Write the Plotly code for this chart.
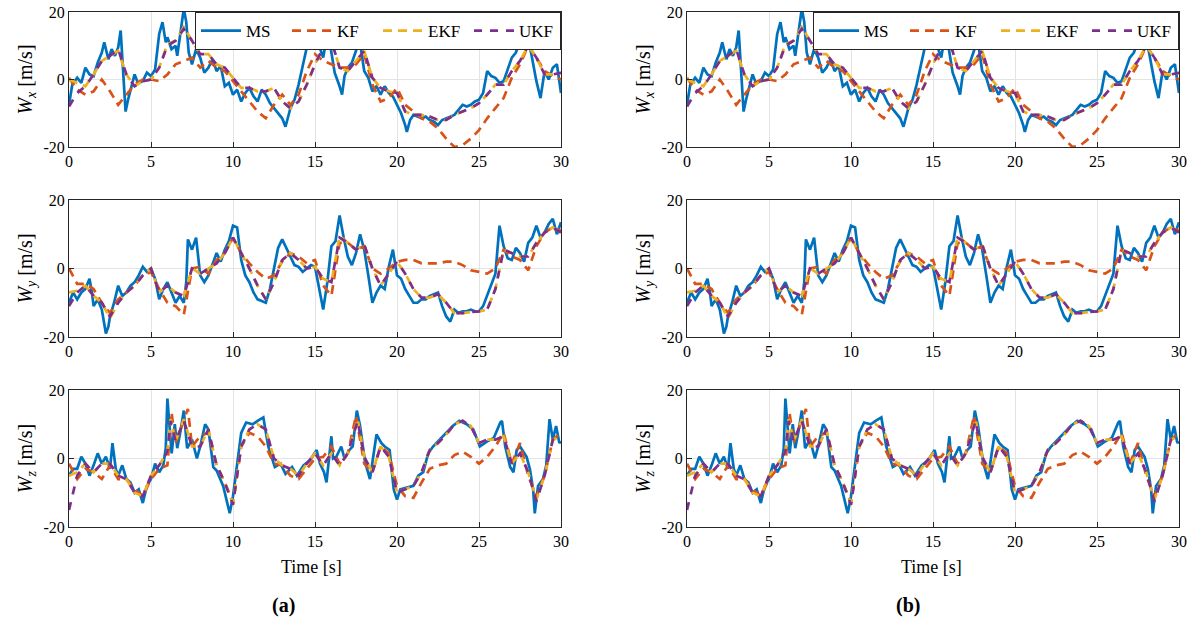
import plotly.graph_objects as go

# ---------------- W_x ----------------
WX_MS_T = [0, 0.2, 0.5, 0.75, 1, 1.25, 1.5, 1.75, 2, 2.15, 2.4, 2.6, 2.8, 3, 3.15, 3.3, 3.45, 3.6, 3.8, 4,
           4.2, 4.5, 4.75, 5, 5.25, 5.5, 5.7, 5.9, 6, 6.25, 6.5, 6.6, 6.8, 7, 7.15, 7.3, 7.5, 7.75, 8, 8.25,
           8.5, 8.75, 9, 9.25, 9.5, 9.75, 10, 10.25, 10.5, 10.75, 11, 11.25, 11.5, 11.75, 12, 12.25, 12.5, 12.75, 13, 13.2,
           13.5, 13.75, 14, 14.25, 14.5, 14.75, 15, 15.25, 15.5, 15.7, 15.85, 16, 16.2, 16.5, 16.65, 16.8, 17, 17.25, 17.5, 17.7,
           17.85, 18, 18.25, 18.5, 18.75, 19, 19.25, 19.5, 19.75, 20, 20.25, 20.5, 20.6, 20.8, 21, 21.25, 21.5, 21.75, 22, 22.25,
           22.5, 22.75, 23, 23.25, 23.5, 23.75, 24, 24.25, 24.5, 24.75, 25, 25.25, 25.5, 25.75, 26, 26.25, 26.5, 26.75, 27, 27.25,
           27.5, 27.75, 28, 28.25, 28.5, 28.75, 29, 29.25, 29.5, 29.75, 30]
WX_MS = [-7.5, -1.5, 0.5, -1, 3.5, 1.5, 1, 5, 8, 11, 6, 9, 7, 9.5, 14.5, 4, -9.5, -6, -2, 1.5,
         -1, -0.5, 2, 1, 3, 13.5, 17, 11, 12.5, 9, 10, 7, 14, 21, 17, 8, 4.5, 9, 6.5, 2,
         3.5, 6, 2.5, 4, -2, -1, -4.5, -3, -6.5, -4, -2.5, -5, -6.5, -3, -4.5, -7, -8.5, -10, -11.5, -14,
         -8.5, -6, -1.5, 4, 9.5, 11, 13.5, 10, 6.5, 12, 13, 8, 2, -2, -4.5, 1, 3.5, 5, 8.5, 12.5,
         8, 2.5, 0.5, -3.5, -2, -4.5, -2, -4, -5, -7.5, -10, -13.5, -15.5, -12, -10.5, -11, -11.5, -11, -12, -12.5,
         -13.5, -12, -11.5, -11, -10.5, -9, -7.5, -8, -7.5, -6.5, -6, -4, 2.5, 1, 0.5, -1, -0.5, 3, 6.5, 8,
         11.5, 14, 12.5, 6, -0.5, -5.5, 2.5, 0, 3.5, 4.5, -4]

# filter outputs on a 0.5 s grid
T_HALF = [i * 0.5 for i in range(61)]

WX_KF = [0.5, -3, -4.5, -3.5, 0, -3.5, -7.5, -4.5, -1.5, 0,
         0, -0.5, 1.5, 4.5, 5.5, 6.5, 3.5, 5.5, 3.5, 2.5,
         -0.5, -3.5, -6.5, -9.5, -11.5, -7.5, -4.5, -7.5, -4.5, 2.5,
         7.5, 5.5, 4.5, 3.5, 3.5, 4.5, 7.5, -1.5, -6.5, -5.5,
         -2.5, -7.5, -9.5, -11.5, -12.5, -14.5, -17.5, -20, -19.5, -17.5,
         -15, -11.5, -8.5, -5.5, 0.5, 4.5, 10, 6.5, 2.5, 1, 0]
WX_EKF = [0, -1, -2, 1.5, 5.5, 7, 8.5, 1.5, -2, -0.5,
          0, 3.5, 10.5, 11.5, 15.5, 11.5, 7.5, 7.5, 4.5, 3.5,
          0.5, -2.5, -2.5, -3.5, -3.5, -2.5, -6.5, -8.5, -6.5, -1.5,
          4.5, 9.5, 11.5, 3.5, 2.5, 5.5, 8.5, 0.5, -2.5, -3.5,
          -4, -9.5, -10.5, -10.5, -11, -12, -12, -10.5, -9.5, -8.5,
          -7, -4.5, -1.5, -1.5, 2.5, 5.5, 10, 6.5, 1.5, 1.5, 2]
WX_UKF = [-8, -4, -2, 1.5, 5.5, 7, 9, 1.5, -2, -0.5,
          0, 3.5, 10, 11.5, 15, 11.5, 7.5, 7.5, 4.5, 3.5,
          0.5, -2.5, -2.5, -3.5, -3.5, -2.5, -6.5, -8.5, -6.5, -1.5,
          4.5, 9.5, 11.5, 3.5, 2.5, 5.5, 8.5, 0.5, -2.5, -3.5,
          -4, -9.5, -10.5, -10.5, -11, -12, -12, -10.5, -9.5, -8.5,
          -7, -4.5, -1.5, -1.5, 2.5, 5.5, 10, 6.5, 1.5, 1.5, 2]

# ---------------- W_y ----------------
WY_MS_T = [0, 0.25, 0.5, 0.75, 1, 1.25, 1.4, 1.5, 1.75, 2, 2.25, 2.4, 2.5, 2.75, 3, 3.25, 3.5, 3.75, 4, 4.25,
           4.5, 4.75, 5, 5.25, 5.5, 5.75, 6, 6.25, 6.5, 6.75, 7, 7.15, 7.25, 7.5, 7.75, 8, 8.25, 8.5, 8.75, 9,
           9.25, 9.5, 9.75, 10, 10.25, 10.5, 10.75, 11, 11.25, 11.5, 11.75, 12, 12.25, 12.5, 12.75, 13, 13.25, 13.5, 13.75, 14,
           14.25, 14.5, 14.75, 15, 15.25, 15.5, 15.75, 16, 16.25, 16.5, 16.75, 17, 17.25, 17.5, 17.75, 18, 18.25, 18.5, 18.75, 19,
           19.25, 19.5, 19.75, 20, 20.25, 20.5, 20.75, 21, 21.25, 21.5, 21.75, 22, 22.25, 22.5, 22.75, 23, 23.25, 23.5, 23.75, 24,
           24.25, 24.5, 24.75, 25, 25.25, 25.5, 25.75, 26, 26.25, 26.5, 26.75, 27, 27.25, 27.5, 27.75, 28, 28.25, 28.5, 28.75, 29,
           29.25, 29.5, 29.75, 30]
WY_MS = [-10, -7, -9, -7, -6, -3, -7, -11, -9, -12, -19, -17, -14, -10, -5, -8, -7, -5, -4, -2,
         0.5, -1, 0, -3, -9, -6, -4, -7, -10, -8, -10, -4, 8.5, 5.5, 9, -2, -4, -2, 1, 4.5,
         2, 5.5, 8, 12.5, 12, 2.5, -2, -4, -7, -9, -9.5, -10, -6, 0.5, 6, 8.5, 6, 3.5, 1, 0.5,
         -1, 0, 1, 0.5, -6, -12, -4, 6.5, 8, 15.5, 9, 3.5, 1, 4.5, 10, 5.5, -2, -10, -7, -5,
         -6, 0.5, 5.5, -2, -3, -6, -8, -10, -10, -9, -9, -8, -7.5, -7, -11, -14, -15.5, -12, -13, -12.5,
         -12.5, -12, -12.5, -12.5, -11, -8, -5, -1.5, 12.5, 6.5, 3, 2.5, 6, 4.5, 2, 7.5, 9, 12.5, 9, 10.5,
         13, 14.5, 10, 13.5]

WY_KF = [0, -4.5, -4.5, -6, -10, -13, -9, -7, -5, -2,
         -1, -6, -10, -11, -13.5, 0, 0.5, -1.5, 2.5, 4.5,
         9, 4.5, 1.5, -1, -3, -2, 2, 4.5, 3.5, 1.5,
         2.5, -5, -8, 7.5, 7.5, 5.5, 6.5, 0, -1.5, 0,
         2, 2.5, 2.5, 1.5, 1.5, 1.5, 2, 2, 1, -0.5,
         -1, -1.5, 0, 5.5, 3.5, 2.5, -0.5, 6.5, 10.5, 12, 11]
WY_EKF = [-7, -6.5, -5, -8, -10, -14.5, -10, -7, -5, -2,
          0, -7, -5, -7, -8, 0, -1.5, 0, 1.5, 4.5,
          9, 4.5, 0, -5, -9, -4, 2.5, 4.5, 2.5, 0,
          0.5, -3, -4, 9.5, 7.5, 5.5, 7, 0, -5, -1.5,
          2, -1.5, -6, -8.5, -8.5, -7.5, -10, -13, -13, -12.7,
          -12.5, -12, -6, 5.5, 4.5, 3.5, 3.5, 7.5, 10.5, 12, 10.5]
WY_UKF = [-11, -7, -5, -8, -10, -14, -10, -7, -5, -2,
          0, -7, -5, -7, -8, 0, -1.5, 0, 1.5, 4.5,
          9, 4.5, 0, -5, -9, -4, 2.5, 4.5, 2.5, 0,
          0.5, -3, -4, 9, 7.5, 5.5, 7, 0, -5, -1.5,
          2, -1.5, -6, -8.5, -8.5, -7.5, -10, -13, -13, -12.7,
          -12.5, -12, -6, 5.5, 4.5, 3.5, 3.5, 7.5, 10.5, 12, 10.5]

# ---------------- W_z ----------------
WZ_MS_T = [0, 0.25, 0.5, 0.75, 1, 1.25, 1.5, 1.75, 2, 2.25, 2.5, 2.65, 2.85, 3, 3.25, 3.5, 3.75, 4, 4.25, 4.5,
           4.75, 5, 5.25, 5.5, 5.75, 5.9, 6.0, 6.15, 6.26, 6.45, 6.6, 6.8, 7.0, 7.2, 7.5, 7.8, 8.0, 8.3, 8.5, 8.8,
           9, 9.4, 9.6, 9.8, 10, 10.2, 10.5, 10.8, 11.2, 11.5, 11.85, 12.15, 12.55, 12.9, 13.2, 13.6, 13.9, 14.3, 14.7, 15.1,
           15.3, 15.55, 15.7, 16.0, 16.1, 16.3, 16.6, 16.8, 17.1, 17.3, 17.55, 17.75, 18.05, 18.35, 18.55, 18.75, 19.05, 19.25, 19.55, 19.8,
           20.0, 20.2, 20.6, 21.0, 21.3, 21.6, 21.9, 22.2, 22.6, 23.0, 23.4, 23.8, 24.0, 24.25, 24.65, 25.05, 25.5, 25.9, 26.3, 26.4,
           26.6, 26.9, 27.1, 27.3, 27.5, 27.9, 28.1, 28.3, 28.4, 28.6, 28.9, 29.1, 29.3, 29.5, 29.7, 29.9, 30]
WZ_MS = [-5, -3, -3, 0.5, -1.5, -5, -2, 1.5, -1.5, 0.5, -3, 4.5, -3, -5, -2, -6, -7, -10, -9, -13,
         -8, -6, -1.5, -4, -2, 3, 17.5, 8, 1.5, 10, 3, 8, 14, 3, 5.5, 0, 3.5, 10, 8.5, -2.5,
         -3.5, -8, -12, -16, -11, -3, 7.5, 10.5, 10, 11, 12, 3.5, -2.5, -1.5, -4.5, -2.5, -5, -2, -0.5, 2.5,
         -1.5, -4, -7, 6.5, 0, 0.5, 3.5, 0, 2.5, 3.5, 14, 9.5, -1, -6, 0, 7, 4.5, 3.5, 2.5, -9,
         -12, -9, -8.5, -8, -5, -4, 1.5, 3.5, 5.5, 7.5, 9.5, 11, 10.5, 10, 8.5, 3.5, 5, 6, 10.5, 11,
         3.5, -2.5, -4, 2.5, 3.5, 0.5, -3, -9, -16, -8, -6, -2, 11.5, 5.5, 9.5, 4.5, 5]

WZ_KF_T = [0, 0.5, 1, 1.5, 2, 2.5, 3, 3.5, 4, 4.5, 5, 5.5, 6, 6.25, 6.5, 7, 7.25, 7.5, 8, 8.5,
           9, 9.5, 10, 10.5, 11, 11.5, 12, 12.5, 13, 13.5, 14, 14.5, 15, 15.5, 16, 16.5, 17, 17.5, 18, 18.5,
           19, 19.5, 20, 20.5, 21, 21.5, 22, 22.5, 23, 23.5, 24, 24.5, 25, 25.5, 26, 26.5, 27, 27.5, 28, 28.5,
           29, 29.5, 30]
WZ_KF = [-1.5, -6, -3, -4, -6, -2, -6, -6, -9, -11, -6, -3, -2, 13.5, 4.5, 11.5, 14.5, 3.5, 6.5, 7.5,
         -2, -7, -13, 3.5, 7.5, 6.5, 3.5, -1.5, -2, -5, -6, -3, 0, 0.5, 3.5, -1.5, 1.5, 12.5, -1.5, -4,
         3.5, 1.5, -8, -11, -11.5, -7, -3, -2, -1.5, 1, 2, 0.5, -1.5, 0.5, 3.5, 7.5, -1.5, 4.5, -5, -11,
         -5, 5.5, 7.5]

WZ_F_T = [0, 0.5, 1, 1.5, 2, 2.5, 3, 3.5, 4, 4.5, 5, 5.5, 6, 6.2, 6.5, 7, 7.5, 8, 8.5, 9,
          9.5, 10, 10.5, 11, 11.5, 12, 12.5, 13, 13.5, 14, 14.5, 15, 15.5, 16, 16.5, 17, 17.6, 18, 18.5, 19,
          19.5, 20, 20.5, 21, 21.5, 22, 22.5, 23, 23.5, 24, 24.5, 25, 25.5, 26, 26.5, 27, 27.5, 28, 28.5, 29,
          29.5, 30]
WZ_EKF = [-5, -4, -1.5, -4, -1.5, -1.5, -5, -6, -10, -11, -5, -2, 2, 11.5, 5, 11.5, 3.5, 3.5, 8.5, -2,
          -7, -13, 3.5, 8.5, 10, 8.5, 0, -2, -3, -5, -1.5, 1.5, -2, 1.5, -2, 1.5, 11.5, 0.5, -4, 3.5,
          0.5, -10, -9, -8, -4, 2.5, 4.5, 7, 10, 11, 9.5, 4.5, 5.5, 5.5, 6.5, -1.5, 1.5, -4, -12, -5,
          5.5, 6.5]
WZ_UKF = [-15, -5, -1.5, -4, -1.5, -1.5, -5, -6, -10, -11, -5, -2, 2, 11, 5, 11, 3.5, 3.5, 8.5, -2,
          -7, -13.5, 3.5, 8.5, 10, 8.5, 0, -2, -3, -5, -1.5, 1.5, -2, 1.5, -2, 1.5, 11, 0.5, -4, 3.5,
          0.5, -10, -9, -8, -4, 2.5, 4.5, 7, 10, 11, 9.5, 4.5, 5.5, 5.5, 6.5, -1.5, 1.5, -4, -12.5, -5,
          5.5, 6.5]

ROWS = [
    ("x", (WX_MS_T, WX_MS), (T_HALF, WX_KF), (T_HALF, WX_EKF), (T_HALF, WX_UKF)),
    ("y", (WY_MS_T, WY_MS), (T_HALF, WY_KF), (T_HALF, WY_EKF), (T_HALF, WY_UKF)),
    ("z", (WZ_MS_T, WZ_MS), (WZ_KF_T, WZ_KF), (WZ_F_T, WZ_EKF), (WZ_F_T, WZ_UKF)),
]

NAMES = ["MS", "KF", "EKF", "UKF"]
COLORS = ["#0072BD", "#D95319", "#EDB120", "#7E2F8E"]
# slightly different dash periods let the overlapping EKF/UKF curves both show through
DASHES = ["solid", "9px,6px", "9px,6px", "8px,8px"]

X_TICKS = [0, 5, 10, 15, 20, 25, 30]
Y_TICKS = [-20, 0, 20]
Y_TICK_TEXT = ["-20", "0", "20"]

W, H = 1199, 622
COL_X = [(69, 561), (687, 1179)]
ROW_Y = [(12, 147), (200, 337), (390, 527)]
SERIF = "Liberation Serif"
AXIS_COLOR = "#262626"

fig = go.Figure()

axis_idx = 0
for c, (x0, x1) in enumerate(COL_X):
    legend_name = "legend" if c == 0 else "legend2"
    for r, (comp, *series) in enumerate(ROWS):
        axis_idx += 1
        suffix = "" if axis_idx == 1 else str(axis_idx)
        xa, ya = "x" + suffix, "y" + suffix
        for k, (ts, vs) in enumerate(series):
            fig.add_trace(go.Scatter(
                x=ts, y=vs, mode="lines", name=NAMES[k],
                line=dict(color=COLORS[k], width=2.7, dash=DASHES[k]),
                xaxis=xa, yaxis=ya,
                showlegend=(r == 0), legend=legend_name,
            ))
        y0, y1 = ROW_Y[r]
        common = dict(showline=True, linecolor=AXIS_COLOR, linewidth=1, mirror=True,
                      ticks="inside", ticklen=5, tickcolor=AXIS_COLOR, automargin=False,
                      showgrid=True, gridcolor="#e3e3e3", gridwidth=1, zeroline=False,
                      tickfont=dict(family=SERIF, size=16, color="black"))
        fig.layout["xaxis" + suffix] = dict(
            domain=[x0 / W, x1 / W], range=[0, 30], tickvals=X_TICKS,
            anchor=ya, **common)
        fig.layout["yaxis" + suffix] = dict(
            domain=[1 - y1 / H, 1 - y0 / H], range=[-20, 20],
            tickvals=Y_TICKS, ticktext=Y_TICK_TEXT, anchor=xa,
            title=dict(text=f"<i>W<sub>{comp}</sub></i> [m/s]",
                       font=dict(family=SERIF, size=20, color="black"), standoff=5),
            **common)

legend_style = dict(orientation="h", xanchor="right", yanchor="top", y=1 - 12 / H,
                    bgcolor="white", bordercolor=AXIS_COLOR, borderwidth=1,
                    font=dict(family=SERIF, size=17, color="black"),
                    itemwidth=40, entrywidth=36, tracegroupgap=0)
fig.update_layout(
    legend=dict(x=561 / W, **legend_style),
    legend2=dict(x=1179 / W, **legend_style),
)

annotations = []
for cx, tag_x, tag in [(311, 283, "(a)"), (932, 908, "(b)")]:
    annotations.append(dict(text="Time [s]", x=cx / W, y=1 - 567 / H, xref="paper", yref="paper",
                            xanchor="center", yanchor="middle", showarrow=False,
                            font=dict(family=SERIF, size=18, color="black")))
    annotations.append(dict(text=f"<b>{tag}</b>", x=tag_x / W, y=1 - 605 / H, xref="paper", yref="paper",
                            xanchor="center", yanchor="middle", showarrow=False,
                            font=dict(family=SERIF, size=20, color="black")))

fig.update_layout(
    width=W, height=H, margin=dict(l=0, r=0, t=0, b=0, autoexpand=False),
    paper_bgcolor="white", plot_bgcolor="white",
    annotations=annotations,
)

fig.write_html("out.html")
